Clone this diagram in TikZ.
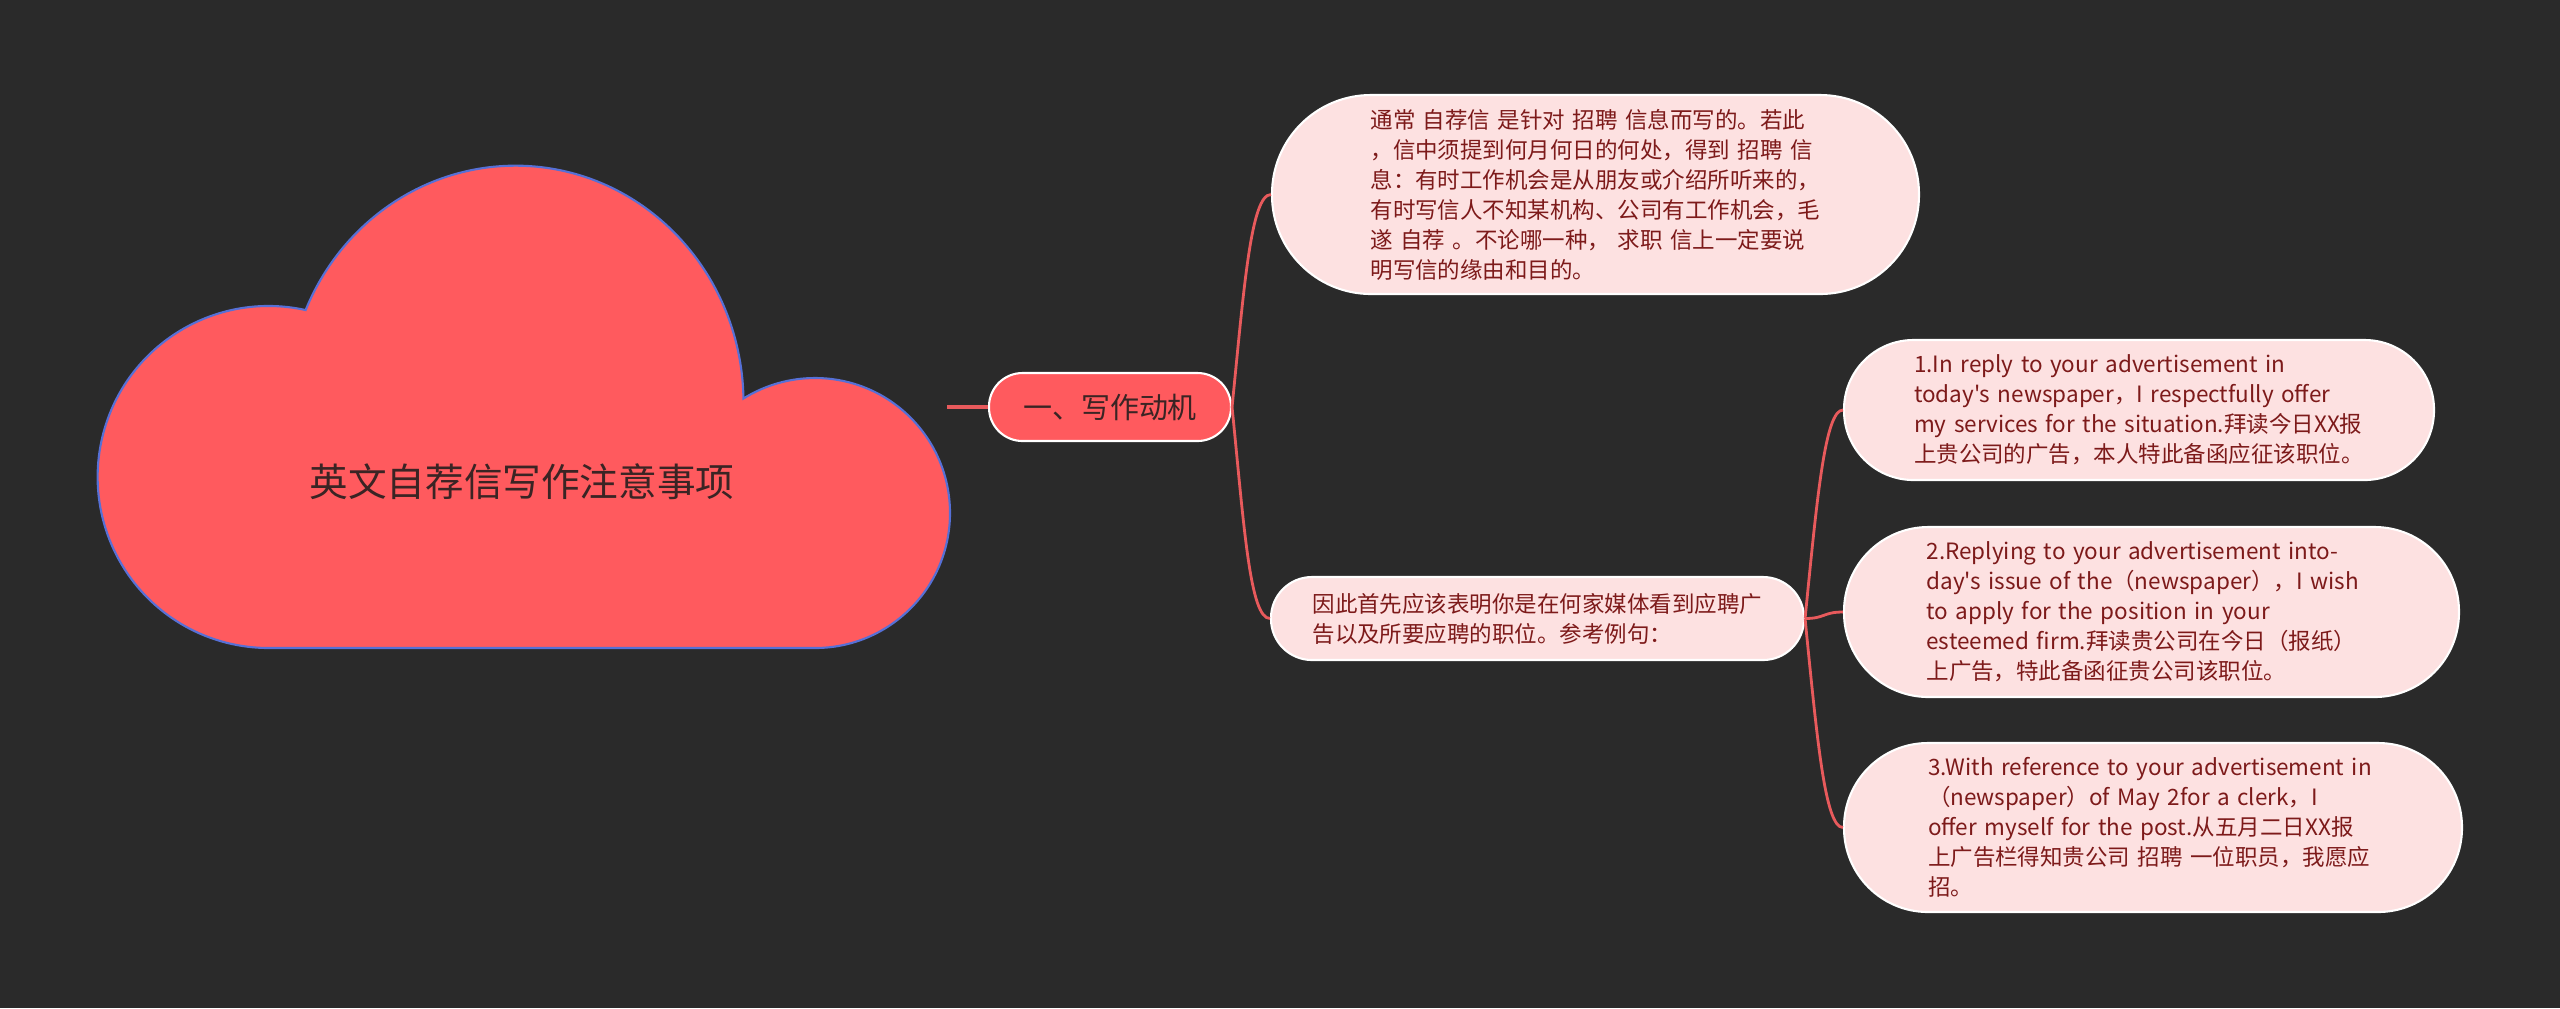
\documentclass[tikz,border=0pt]{standalone}
\usepackage{fontspec}
\setmainfont{Noto Sans CJK SC}[Ligatures=TeXOff]
\definecolor{bg}{HTML}{2A2A2A}
\definecolor{coral}{HTML}{FF5A5E}
\definecolor{pinkfill}{HTML}{FDE1E1}
\definecolor{darkred}{HTML}{7D1A1A}
\definecolor{linkred}{HTML}{E85A5C}
\definecolor{cloudedge}{HTML}{5670D6}
\definecolor{titletext}{HTML}{3A2424}
\newcommand\Ln[1]{\mbox{#1}}
\begin{document}
\begin{tikzpicture}[x=0.1mm,y=-0.1mm,
  leaf/.style={draw=white, line width=0.6pt, fill=pinkfill, text=darkred,
    font=\fontsize{6.4pt}{8.54pt}\selectfont, align=left, text width=45mm,
    inner ysep=0pt},
  link/.style={draw=linkred, line width=0.8pt},
  cloudshape/.style={fill=coral, draw=cloudedge, line width=0.6pt}]
\fill[bg] (0,0) rectangle (2560,1008);
\useasboundingbox (0,0) rectangle (2560,1008);
% cloud
\path[cloudshape] (268.6,648) -- (815,648)
  arc[start angle=90, end angle=-122, radius=135]
  arc[start angle=-1, end angle=-157, x radius=228, y radius=237]
  arc[start angle=-77.5, end angle=-270, radius=171] -- cycle;
\node[text=titletext, font=\fontsize{11pt}{13pt}\selectfont] (title) at (522,482) {英文自荐信写作注意事项};
\coordinate (cloudport) at (947,407);
% level 1
\node[draw=white, line width=0.6pt, fill=coral, text=titletext,
  font=\fontsize{8.25pt}{10pt}\selectfont, minimum width=24.2mm, minimum height=6.8mm,
  rounded corners=3.35mm, inner sep=0pt] (g) at (1110,407) {一、写作动机};
% level 2
\node[leaf, inner xsep=9.85mm, minimum height=19.9mm, rounded corners=9.9mm] (t) at (1595.5,194.5)
{\Ln{通常 自荐信 是针对 招聘 信息而写的。若此}\\
\Ln{，信中须提到何月何日的何处，得到 招聘 信}\\
\Ln{息：有时工作机会是从朋友或介绍所听来的，}\\
\Ln{有时写信人不知某机构、公司有工作机会，毛}\\
\Ln{遂 自荐 。不论哪一种， 求职 信上一定要说}\\
\Ln{明写信的缘由和目的。}};
\node[leaf, inner xsep=4.15mm, minimum height=8.3mm, rounded corners=4.1mm] (m) at (1537.5,618.5)
{\Ln{因此首先应该表明你是在何家媒体看到应聘广}\\
\Ln{告以及所要应聘的职位。参考例句：}};
% level 3
\node[leaf, inner xsep=7mm, minimum height=14mm, rounded corners=6.95mm] (r1) at (2139,410)
{\Ln{1.In reply to your advertisement in}\\
\Ln{today's newspaper，I respectfully offer}\\
\Ln{my services for the situation.拜读今日XX报}\\
\Ln{上贵公司的广告，本人特此备函应征该职位。}};
\node[leaf, inner xsep=8.25mm, minimum height=17mm, rounded corners=8.45mm] (r2) at (2151.5,612)
{\Ln{2.Replying to your advertisement into-}\\
\Ln{day's issue of the（newspaper），I wish}\\
\Ln{to apply for the position in your}\\
\Ln{esteemed firm.拜读贵公司在今日（报纸）}\\
\Ln{上广告，特此备函征贵公司该职位。}};
\node[leaf, inner xsep=8.4mm, minimum height=16.9mm, rounded corners=8.4mm] (r3) at (2153,827.5)
{\Ln{3.With reference to your advertisement in}\\
\Ln{（newspaper）of May 2for a clerk，I}\\
\Ln{offer myself for the post.从五月二日XX报}\\
\Ln{上广告栏得知贵公司 招聘 一位职员，我愿应}\\
\Ln{招。}};
% connectors
\draw[draw=linkred, line width=1.3pt] (cloudport) -- (g.west);
\draw[link] (g.east) .. controls +(12,-120) and +(-20,0) .. (t.west);
\draw[link] (g.east) .. controls +(12,120) and +(-20,0) .. (m.west);
\draw[link] (m.east) .. controls +(12,-120) and +(-18,0) .. (r1.west);
\draw[link] (m.east) .. controls +(20,0) and +(-20,0) .. (r2.west);
\draw[link] (m.east) .. controls +(12,120) and +(-18,0) .. (r3.west);
\end{tikzpicture}
\end{document}
